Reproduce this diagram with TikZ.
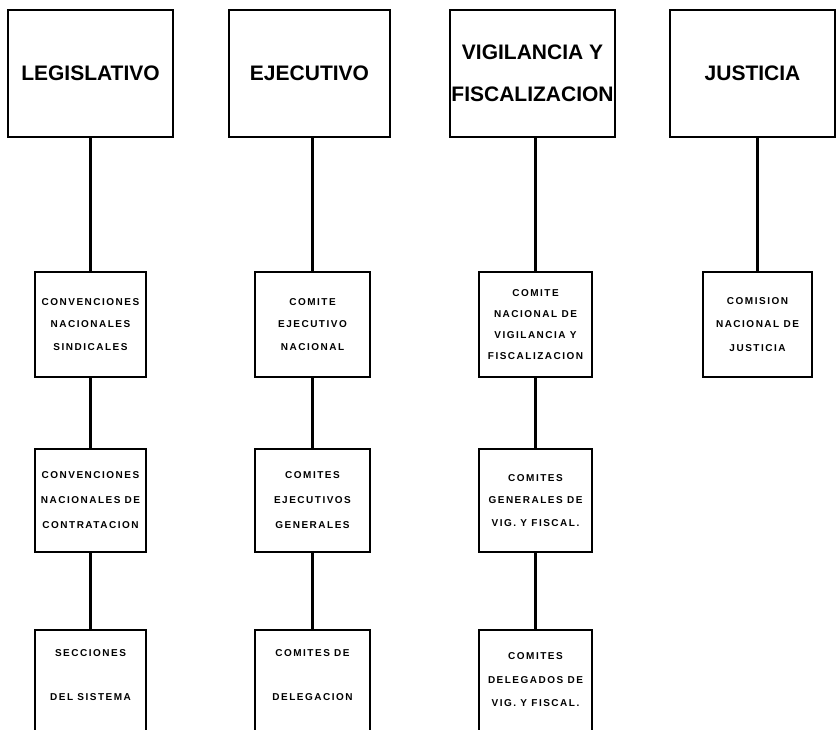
\documentclass[tikz,border=0pt]{standalone}
\usepackage{fontspec}
\setmainfont{Liberation Sans}
\newfontfamily\bigfont{Liberation Sans}
\newfontfamily\smallfont{Liberation Sans}[LetterSpace=15]
\begin{document}
\begin{tikzpicture}[x=1pt,y=-1pt,
  topbox/.style={draw, line width=1.5pt, inner sep=0pt, outer sep=0pt, minimum height=127pt,
     align=center, font=\bigfont\bfseries\fontsize{21}{42}\selectfont},
  subbox/.style={draw, line width=1.5pt, inner sep=0pt, outer sep=0pt,
     align=center, font=\smallfont\bfseries\fontsize{10}{22.5}\selectfont},
  openbox/.style={inner sep=0pt, outer sep=0pt, minimum height=90pt,
     align=center, font=\smallfont\bfseries\fontsize{10}{22.5}\selectfont},
  link/.style={line width=3.5pt},
  side/.style={line width=1.5pt}]
\useasboundingbox (0,0) rectangle (837,730);
% top row
\node[topbox, minimum width=165pt] (leg) at (90.5,73.5) {LEGISLATIVO};
\node[topbox, minimum width=161pt] (eje) at (309.5,73.5) {EJECUTIVO};
\node[topbox, minimum width=165pt] (vig) at (532.5,73.5) {VIGILANCIA Y\\FISCALIZACION};
\node[topbox, minimum width=165pt] (jus) at (752.5,73.5) {JUSTICIA};
% second row
\node[subbox, minimum width=111pt, minimum height=105pt] (cns) at (90.5,324.5) {CONVENCIONES\\NACIONALES\\SINDICALES};
\node[subbox, minimum width=115pt, minimum height=105pt] (cen) at (312.5,324.5) {COMITE\\EJECUTIVO\\NACIONAL};
\node[subbox, minimum width=113pt, minimum height=105pt, font=\smallfont\bfseries\fontsize{10}{21}\selectfont] (cnv) at (535.5,324.5) {COMITE\\NACIONAL DE\\VIGILANCIA Y\\FISCALIZACION};
\node[subbox, minimum width=109pt, minimum height=105pt, font=\smallfont\bfseries\fontsize{10}{23.5}\selectfont] (cnj) at (757.5,324.5) {COMISION\\NACIONAL DE\\JUSTICIA};
% third row
\node[subbox, minimum width=111pt, minimum height=103pt, font=\smallfont\bfseries\fontsize{10}{25}\selectfont] (cnc) at (90.5,500.5) {CONVENCIONES\\NACIONALES DE\\CONTRATACION};
\node[subbox, minimum width=115pt, minimum height=103pt, font=\smallfont\bfseries\fontsize{10}{25}\selectfont] (ceg) at (312.5,500.5) {COMITES\\EJECUTIVOS\\GENERALES};
\node[subbox, minimum width=113pt, minimum height=103pt] (cgv) at (535.5,500.5) {COMITES\\GENERALES DE\\VIG. Y FISCAL.};
% fourth row (open at the bottom)
\node[openbox, minimum width=111pt] (sec) at (90.5,675) {SECCIONES\\[22pt]DEL SISTEMA};
\node[openbox, minimum width=115pt] (cdd) at (312.5,675) {COMITES DE\\[22pt]DELEGACION};
\node[openbox, minimum width=113pt, minimum height=100pt, font=\smallfont\bfseries\fontsize{10}{23.5}\selectfont] (cdv) at (535.5,680) {COMITES\\DELEGADOS DE\\VIG. Y FISCAL.};
\foreach \n in {sec,cdd,cdv}{
  \draw[side] ([yshift=-40pt]\n.south west) -- (\n.north west) -- (\n.north east) -- ([yshift=-40pt]\n.south east);
}
% connectors
\draw[link] (leg.south) -- (cns.north);
\draw[link] (eje.south -| cen.north) -- (cen.north);
\draw[link] (vig.south -| cnv.north) -- (cnv.north);
\draw[link] (jus.south -| cnj.north) -- (cnj.north);
\draw[link] (cns.south) -- (cnc.north);
\draw[link] (cen.south) -- (ceg.north);
\draw[link] (cnv.south) -- (cgv.north);
\draw[link] (cnc.south) -- (sec.north);
\draw[link] (ceg.south) -- (cdd.north);
\draw[link] (cgv.south) -- (cdv.north);
\end{tikzpicture}
\end{document}
